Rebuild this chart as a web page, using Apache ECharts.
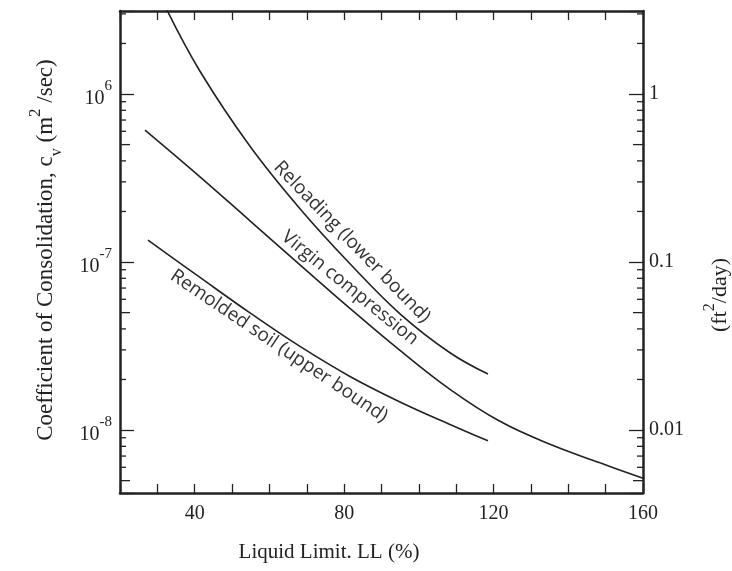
<!DOCTYPE html>
<html>
<head>
<meta charset="utf-8">
<script src="https://cdn.jsdelivr.net/npm/echarts@6/dist/echarts.min.js"></script>
<style>
html,body{margin:0;padding:0;background:#fff;}
#chart{width:732px;height:571px;}
</style>
</head>
<body>
<div id="chart"></div>
<script>
// ---- data ----
const llReloading = [32.3, 41.41, 54.8, 68.18, 81.56, 94.95, 108.33, 118.5];
const cvReloading = [3.25e-6, 1.367e-6, 4.89e-7, 2.077e-7, 9.77e-8, 4.92e-8, 2.884e-8, 2.154e-8];

const llVirgin = [26.69, 41.41, 54.8, 68.18, 81.56, 94.95, 108.33, 121.71, 135.1, 148.48, 160];
const cvVirgin = [6.10e-7, 3.216e-7, 1.76e-7, 9.63e-8, 5.30e-8, 2.98e-8, 1.748e-8, 1.127e-8, 8.23e-9, 6.38e-9, 5.16e-9];

const llRemolded = [27.49, 41.41, 54.8, 68.18, 81.56, 94.95, 108.33, 118.5];
const cvRemolded = [1.352e-7, 8.10e-8, 4.98e-8, 3.145e-8, 2.085e-8, 1.47e-8, 1.08e-8, 8.63e-9];

const curveNames = ['Reloading (lower bound)', 'Virgin compression', 'Remolded soil (upper bound)'];
// label anchor (LL, cv) and text angle for each curve
const labelLL = [82.1, 81.56, 62.56];
const labelCv = [1.315e-7, 7.0e-8, 3.16e-8];
const labelAngle = [-46, -39, -34];

const xTickLabels = [40, 80, 120, 160];
const leftTickValues = [1e-8, 1e-7, 1e-6];
const leftTickSup = ['-8', '-7', '6'];
const rightTickValues = [0.01, 0.1, 1];
const rightTickLabels = ['0.01', '0.1', '1'];
const minorMultipliers = [2, 3, 4, 5, 6, 7, 8, 9];
const leftDecades = [1e-9, 1e-8, 1e-7, 1e-6];
const rightDecades = [1e-3, 1e-2, 1e-1, 1];

// axis extents
const xMin = 20, xMax = 160;
const yLeftMin = 4.22e-9, yLeftMax = 3.12e-6;
const yRightMin = 4.22e-3, yRightMax = 3.12;

const serif = '"Liberation Serif", "DejaVu Serif", serif';
const sans = '"Open Sans", "Noto Sans", sans-serif';
const ink = '#222';

function zip(a, b) { return a.map((v, i) => [v, b[i]]); }

function minorTicks(decades, multipliers, lo, hi, xv) {
  const out = [];
  decades.forEach(d => multipliers.forEach(m => {
    const v = d * m;
    if (v > lo && v < hi) out.push([xv, v, m]);
  }));
  return out;
}

function tickRender(dir) {
  return function (params, api) {
    const p = api.coord([api.value(0), api.value(1)]);
    const m = api.value(2);
    const len = m === 5 ? 10 : 6;
    return {
      type: 'line',
      shape: { x1: p[0], y1: p[1], x2: p[0] + dir * len, y2: p[1] },
      style: { stroke: ink, lineWidth: 1.3 }
    };
  };
}

const chart = echarts.init(document.getElementById('chart'));

const lineStyle = { color: ink, width: 1.6 };

function curveLabel(i) {
  return {
    symbol: 'circle',
    symbolSize: 1,
    silent: true,
    itemStyle: { color: 'rgba(0,0,0,0)' },
    data: [{
      coord: [labelLL[i], labelCv[i]],
      label: {
        show: true, position: 'inside', formatter: curveNames[i], rotate: labelAngle[i],
        color: '#333', fontFamily: sans, fontSize: 19
      }
    }]
  };
}

chart.setOption({
  animation: false,
  backgroundColor: '#fff',
  grid: { left: 120, right: 89, top: 11, bottom: 78 },
  xAxis: [{
    type: 'value', min: xMin, max: xMax, interval: 10, position: 'bottom',
    axisLine: { lineStyle: { color: ink, width: 2.5 } },
    axisTick: { inside: true, length: 9, lineStyle: { color: ink, width: 1.3 } },
    splitLine: { show: false },
    axisLabel: {
      margin: 11, color: ink, fontFamily: serif, fontSize: 20,
      formatter: v => xTickLabels.indexOf(v) >= 0 ? String(v) : ''
    }
  }, {
    type: 'value', min: xMin, max: xMax, interval: 10, position: 'top',
    axisLine: { lineStyle: { color: ink, width: 2.5 } },
    axisTick: { inside: true, length: 9, lineStyle: { color: ink, width: 1.3 } },
    splitLine: { show: false },
    axisLabel: { show: false }
  }],
  yAxis: [{
    type: 'log', logBase: 10, min: yLeftMin, max: yLeftMax, position: 'left',
    axisLine: { show: true, lineStyle: { color: ink, width: 2.5 } },
    axisTick: { show: true, inside: true, length: 14, lineStyle: { color: ink, width: 1.3 } },
    splitLine: { show: false },
    axisLabel: {
      margin: 8, color: ink, fontFamily: serif,
      formatter: v => {
        const i = leftTickValues.findIndex(t => Math.abs(Math.log10(t) - Math.log10(v)) < 1e-6);
        return i < 0 ? '' : '{b|10}{s|' + leftTickSup[i] + '}';
      },
      rich: {
        b: { fontSize: 20, fontFamily: serif, color: ink, verticalAlign: 'bottom', lineHeight: 30 },
        s: { fontSize: 15, fontFamily: serif, color: ink, verticalAlign: 'top', lineHeight: 30 }
      }
    }
  }, {
    type: 'log', logBase: 10, min: yRightMin, max: yRightMax, position: 'right',
    axisLine: { show: true, lineStyle: { color: ink, width: 2.5 } },
    axisTick: { show: true, inside: true, length: 14, lineStyle: { color: ink, width: 1.3 } },
    splitLine: { show: false },
    axisLabel: {
      margin: 6, color: ink, fontFamily: serif, fontSize: 20,
      formatter: v => {
        const i = rightTickValues.findIndex(t => Math.abs(Math.log10(t) - Math.log10(v)) < 1e-6);
        return i < 0 ? '' : rightTickLabels[i];
      }
    }
  }],
  series: [{
    name: curveNames[0], type: 'line', data: zip(llReloading, cvReloading),
    showSymbol: false, smooth: 0.4, lineStyle: lineStyle, clip: true,
    markPoint: curveLabel(0)
  }, {
    name: curveNames[1], type: 'line', data: zip(llVirgin, cvVirgin),
    showSymbol: false, smooth: 0.4, lineStyle: lineStyle, clip: true,
    markPoint: curveLabel(1)
  }, {
    name: curveNames[2], type: 'line', data: zip(llRemolded, cvRemolded),
    showSymbol: false, smooth: 0.4, lineStyle: lineStyle, clip: true,
    markPoint: curveLabel(2)
  }, {
    type: 'custom', xAxisIndex: 0, yAxisIndex: 0, silent: true, clip: false,
    data: minorTicks(leftDecades, minorMultipliers, yLeftMin, yLeftMax, xMin),
    renderItem: tickRender(1)
  }, {
    type: 'custom', xAxisIndex: 0, yAxisIndex: 1, silent: true, clip: false,
    data: minorTicks(rightDecades, minorMultipliers, yRightMin, yRightMax, xMax),
    renderItem: tickRender(-1)
  }],
  graphic: [{
    type: 'text', x: 46, y: 250, rotation: Math.PI / 2,
    style: {
      text: '{n|Coefficient of Consolidation, c}{sub|v}{n| (m}{sup|2}{n| /sec)}',
      align: 'center', verticalAlign: 'middle',
      rich: {
        n: { fontSize: 23, fontFamily: serif, fill: ink, verticalAlign: 'middle', lineHeight: 32 },
        sub: { fontSize: 16, fontFamily: serif, fill: ink, verticalAlign: 'bottom', lineHeight: 28 },
        sup: { fontSize: 17, fontFamily: serif, fill: ink, verticalAlign: 'top', lineHeight: 38 }
      }
    }
  }, {
    type: 'text', x: 720, y: 295, rotation: Math.PI / 2,
    style: {
      text: '{n|(ft}{sup|2}{n|/day)}',
      align: 'center', verticalAlign: 'middle',
      rich: {
        n: { fontSize: 22, fontFamily: serif, fill: ink, verticalAlign: 'middle', lineHeight: 30 },
        sup: { fontSize: 16, fontFamily: serif, fill: ink, verticalAlign: 'top', lineHeight: 36 }
      }
    }
  }, {
    type: 'text', x: 329, y: 552,
    style: {
      text: 'Liquid Limit. LL (%)', align: 'center', verticalAlign: 'middle',
      font: '21px ' + serif, fill: ink
    }
  }]
});
</script>
</body>
</html>
